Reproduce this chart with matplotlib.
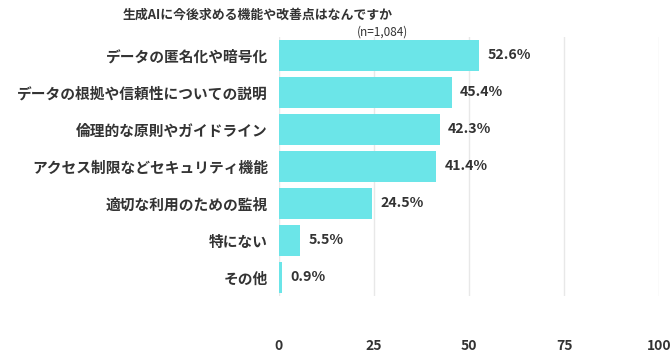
import matplotlib
matplotlib.use("Agg")
import matplotlib.pyplot as plt

plt.rcParams["font.family"] = ["Noto Sans CJK JP", "DejaVu Sans"]

title = "生成AIに今後求める機能や改善点はなんですか"
sample_note = "(n=1,084)"
categories = [
    "データの匿名化や暗号化",
    "データの根拠や信頼性についての説明",
    "倫理的な原則やガイドライン",
    "アクセス制限などセキュリティ機能",
    "適切な利用のための監視",
    "特にない",
    "その他",
]
values = [52.6, 45.4, 42.3, 41.4, 24.5, 5.5, 0.9]
xticks = [0, 25, 50, 75, 100]

bar_color = "#6BE5E8"
text_color = "#333333"

fig = plt.figure(figsize=(6.7, 3.59), dpi=100)
ax = fig.add_axes([0.4164, 0.1755, 0.5672, 0.7215])

y = list(range(len(categories)))
ax.barh(y, values, height=0.84, color=bar_color, zorder=2)
for yi, v in zip(y, values):
    ax.annotate(f"{v}%", (v, yi), xytext=(6, 0), textcoords="offset points",
                ha="left", va="center", fontsize=10.2, fontweight="bold", color=text_color)

ax.set_xlim(0, 100)
ax.set_ylim(len(categories) - 0.5, -0.5)
ax.set_yticks(y)
ax.set_yticklabels(categories, fontsize=10.6, fontweight="bold", color=text_color)
ax.set_xticks(xticks)
ax.set_xticklabels([str(t) for t in xticks], fontsize=10, fontweight="bold", color=text_color)
ax.tick_params(axis="x", length=0, pad=31)
ax.tick_params(axis="y", length=0, pad=8)
ax.grid(axis="x", color="#e8e8e8", linewidth=1, zorder=0)
for s in ax.spines.values():
    s.set_visible(False)

fig.text(0.385, 0.958, title, ha="center", va="center", fontsize=9.3, fontweight="bold", color=text_color)
fig.text(0.609, 0.912, sample_note, ha="right", va="center", fontsize=8.5, color=text_color)

fig.savefig("out.png", dpi=100)
